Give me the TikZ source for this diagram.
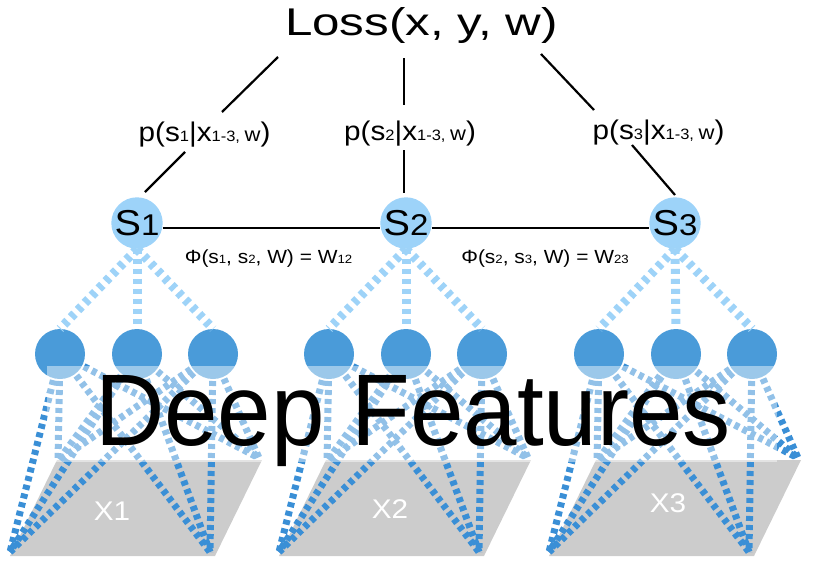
\documentclass[tikz,border=0pt]{standalone}
\usepackage{fontspec}
\setmainfont{Liberation Sans}
\newfontfamily\wf[FakeStretch=1.1]{Liberation Sans}
\usepackage{graphicx}
\definecolor{sblue}{HTML}{9DD3F9}
\definecolor{lblue}{HTML}{9ED3F8}
\definecolor{fblue}{HTML}{4A9BD9}
\definecolor{dblue}{HTML}{3A8FD6}
\definecolor{pgray}{HTML}{CCCCCC}
\newcommand{\plabel}[1]{\wf\fontsize{27}{29}\selectfont p(s{\fontsize{15}{17}\selectfont #1}|x{\fontsize{15}{17}\selectfont 1-3, }{\fontsize{20}{22}\selectfont w})}
\newcommand{\philabel}[3]{\wf\fontsize{19}{21}\selectfont Φ(s{\fontsize{12}{14}\selectfont #1}, s{\fontsize{12}{14}\selectfont #2}, W) = W{\fontsize{12}{14}\selectfont #3}}
\newcommand{\slabel}[1]{\wf\fontsize{36}{38}\selectfont S{\fontsize{30}{32}\selectfont #1}}
\tikzset{
  snode/.style={circle, fill=sblue, minimum size=50pt, inner sep=0pt, text=black},
  fnode/.style={circle, fill=fblue, minimum size=50pt, inner sep=0pt},
  lightdash/.style={draw=lblue, line width=9pt, dash pattern=on 5pt off 5pt},
  darkdash/.style={draw=dblue, line width=7pt, dash pattern=on 5pt off 4pt},
  blackline/.style={draw=black, line width=2.2pt},
  txt/.style={inner sep=0pt, outer sep=0pt},
  imgplane/.style={fill=pgray},
  xlabel/.style={inner sep=0pt, text=white, font=\wf\fontsize{27}{29}\selectfont},
  veil/.style={fill=white, fill opacity=0.45}
}
\begin{document}
\begin{tikzpicture}[x=1pt, y=-1pt]
\useasboundingbox (0,0) rectangle (819,562);

% image planes
\foreach \g/\ox/\lx/\ly in {1/0/112/511, 2/269/390/509, 3/539/668/503} {
  \fill[imgplane] (57+\ox,460) -- (262+\ox,460) -- (215+\ox,556) -- (10+\ox,556) -- cycle;
  \node[xlabel] (x\g) at (\lx,\ly) {X\g};
  \coordinate (c\g tl) at (58+\ox,461);
  \coordinate (c\g tr) at (259+\ox,458);
  \coordinate (c\g bl) at (10+\ox,552);
  \coordinate (c\g br) at (210+\ox,552);
  \foreach \i/\fx in {1/60, 2/137, 3/213} {
    \coordinate (f\g-\i c) at (\fx+\ox,354);
  }
}

% dark dashed receptive-field lines
\foreach \g in {1,2,3} {
  \foreach \i in {1,2,3} {
    \foreach \c in {tl,tr,bl,br} {
      \draw[darkdash] (f\g-\i c) -- (c\g\c);
    }
  }
}

% feature nodes
\foreach \g in {1,2,3} {
  \foreach \i in {1,2,3} {
    \node[fnode] (f\g-\i) at (f\g-\i c) {};
  }
}

% translucent veil
\fill[veil] (47,366) rectangle (777,462);

% structured nodes
\node[snode] (s1) at (137,223) {\slabel{1}};
\node[snode] (s2) at (406,223) {\slabel{2}};
\node[snode] (s3) at (675,223) {\slabel{3}};

% light dashed lines from s nodes to features
\foreach \g in {1,2,3} {
  \foreach \i in {1,2,3} {
    \draw[lightdash] (s\g.south) -- (f\g-\i.north);
  }
}

% pairwise links
\draw[blackline] ([yshift=-5pt]s1.east) -- ([yshift=-5pt]s2.west);
\draw[blackline] ([yshift=-5pt]s2.east) -- ([yshift=-5pt]s3.west);

% texts
\node[txt, anchor=base west] (loss) at (285,35) {\resizebox{273pt}{28pt}{Loss(x, y, w)}};
\node[txt, anchor=base] (p1) at (204.5,141) {\plabel{1}};
\node[txt, anchor=base] (p2) at (410,140) {\plabel{2}};
\node[txt, anchor=base] (p3) at (658.5,139) {\plabel{3}};
\node[txt, anchor=base] (phi1) at (268.5,263) {\philabel{1}{2}{12}};
\node[txt, anchor=base] (phi2) at (545,263) {\philabel{2}{3}{23}};

% loss-to-label and label-to-node connectors
\coordinate (la) at (278,57);  \coordinate (lb) at (222,112);
\coordinate (ma) at (404,58);  \coordinate (mb) at (404,105);
\coordinate (ra) at (541,54);  \coordinate (rb) at (594,110);
\coordinate (pa) at (185,152); \coordinate (pb) at (145,192);
\coordinate (qa) at (404,150); \coordinate (qb) at (404,193);
\coordinate (ta) at (632,145); \coordinate (tb) at (675,195);
\draw[blackline] (la) -- (lb);
\draw[blackline] (ma) -- (mb);
\draw[blackline] (ra) -- (rb);
\draw[blackline] (pa) -- (pb);
\draw[blackline] (qa) -- (qb);
\draw[blackline] (ta) -- (tb);

% big caption
\node[txt, anchor=base west] (deep) at (95,445) {\resizebox{636pt}{70pt}{Deep Features}};
\end{tikzpicture}
\end{document}
